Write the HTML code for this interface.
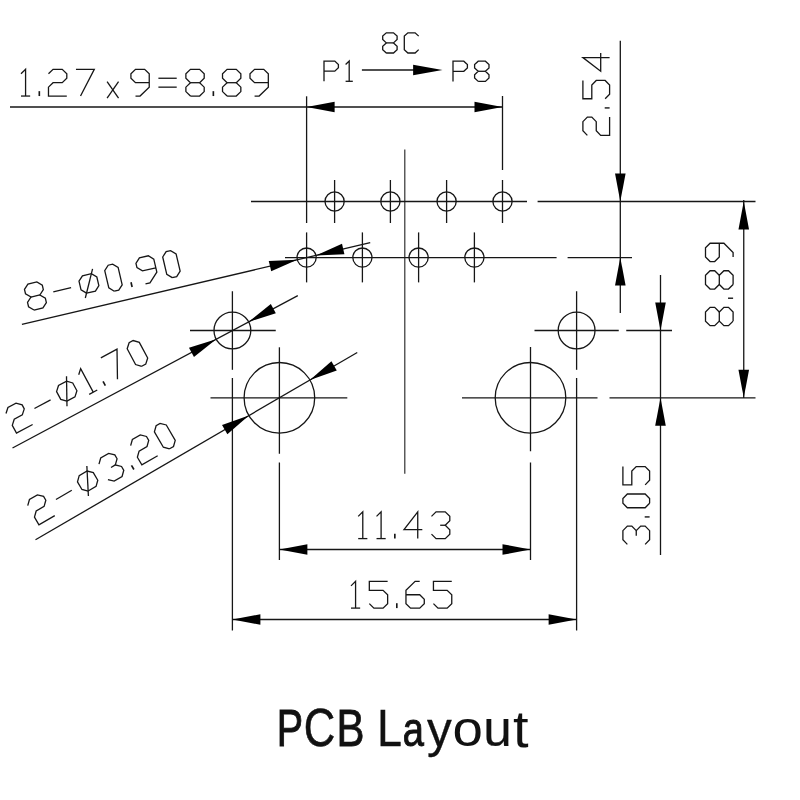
<!DOCTYPE html>
<html><head><meta charset="utf-8"><title>PCB Layout</title>
<style>
html,body{margin:0;padding:0;background:#fff;}
body{width:800px;height:800px;overflow:hidden;font-family:"Liberation Sans",sans-serif;}
svg{display:block}
</style></head><body>
<svg width="800" height="800" viewBox="0 0 800 800">
<rect width="800" height="800" fill="#ffffff"/>
<g fill="none" stroke="#161616" stroke-width="1.3" stroke-linecap="butt">
<line x1="10.00" y1="107.00" x2="502.50" y2="107.00"/>
<line x1="306.60" y1="96.30" x2="306.60" y2="223.00"/>
<line x1="306.60" y1="232.40" x2="306.60" y2="282.40"/>
<line x1="502.50" y1="96.00" x2="502.50" y2="170.00"/>
<line x1="502.50" y1="180.00" x2="502.50" y2="223.00"/>
<line x1="334.60" y1="180.00" x2="334.60" y2="223.00"/>
<line x1="390.40" y1="180.00" x2="390.40" y2="223.00"/>
<line x1="446.60" y1="180.00" x2="446.60" y2="223.00"/>
<line x1="362.40" y1="232.40" x2="362.40" y2="282.40"/>
<line x1="418.60" y1="232.40" x2="418.60" y2="282.40"/>
<line x1="474.40" y1="232.40" x2="474.40" y2="282.40"/>
<line x1="404.80" y1="149.60" x2="404.80" y2="473.75" stroke="#2a2a2a" stroke-width="1.15"/>
<line x1="251.00" y1="201.50" x2="527.00" y2="201.50"/>
<line x1="537.60" y1="201.50" x2="755.50" y2="201.50"/>
<line x1="285.00" y1="257.60" x2="556.60" y2="257.60"/>
<line x1="567.60" y1="257.60" x2="632.00" y2="257.60"/>
<line x1="190.00" y1="330.50" x2="275.75" y2="330.50"/>
<line x1="534.50" y1="330.50" x2="618.75" y2="330.50"/>
<line x1="626.25" y1="330.50" x2="672.00" y2="330.50"/>
<line x1="210.50" y1="397.80" x2="347.30" y2="397.80"/>
<line x1="462.00" y1="397.80" x2="597.50" y2="397.80"/>
<line x1="609.50" y1="397.80" x2="755.50" y2="397.80"/>
<line x1="232.40" y1="291.25" x2="232.40" y2="369.80"/>
<line x1="232.40" y1="378.00" x2="232.40" y2="630.50"/>
<line x1="576.60" y1="291.25" x2="576.60" y2="369.80"/>
<line x1="576.60" y1="378.00" x2="576.60" y2="630.50"/>
<line x1="279.40" y1="347.30" x2="279.40" y2="453.75"/>
<line x1="279.40" y1="462.50" x2="279.40" y2="560.00"/>
<line x1="530.50" y1="347.00" x2="530.50" y2="451.25"/>
<line x1="530.50" y1="462.50" x2="530.50" y2="560.00"/>
<line x1="279.40" y1="549.50" x2="530.50" y2="549.50"/>
<line x1="232.40" y1="619.50" x2="576.60" y2="619.50"/>
<line x1="620.30" y1="40.80" x2="620.30" y2="313.00"/>
<line x1="743.75" y1="200.00" x2="743.75" y2="398.00"/>
<line x1="660.50" y1="275.00" x2="660.50" y2="555.00"/>
<line x1="361.90" y1="70.00" x2="430.00" y2="70.00"/>
<line x1="21.90" y1="324.40" x2="370.23" y2="242.67"/>
<line x1="12.50" y1="448.00" x2="297.80" y2="295.56"/>
<line x1="35.50" y1="539.80" x2="357.27" y2="352.46"/>
<circle cx="334.60" cy="201.50" r="9.60"/>
<circle cx="390.40" cy="201.50" r="9.60"/>
<circle cx="446.60" cy="201.50" r="9.60"/>
<circle cx="502.50" cy="201.50" r="9.60"/>
<circle cx="306.60" cy="257.60" r="9.60"/>
<circle cx="362.40" cy="257.60" r="9.60"/>
<circle cx="418.60" cy="257.60" r="9.60"/>
<circle cx="474.40" cy="257.60" r="9.60"/>
<circle cx="232.40" cy="330.50" r="18.40"/>
<circle cx="576.60" cy="330.50" r="18.40"/>
<circle cx="279.40" cy="397.80" r="35.30"/>
<circle cx="530.50" cy="397.80" r="35.30"/>
</g>
<g fill="#000" stroke="none">
<polygon points="306.60,107.00 334.60,101.70 334.60,112.30"/>
<polygon points="502.50,107.00 474.50,112.30 474.50,101.70"/>
<polygon points="279.40,549.50 307.40,544.20 307.40,554.80"/>
<polygon points="530.50,549.50 502.50,554.80 502.50,544.20"/>
<polygon points="232.40,619.50 260.40,614.20 260.40,624.80"/>
<polygon points="576.60,619.50 548.60,624.80 548.60,614.20"/>
<polygon points="620.30,201.50 615.00,173.50 625.60,173.50"/>
<polygon points="620.30,257.60 625.60,285.60 615.00,285.60"/>
<polygon points="743.75,201.50 749.05,229.50 738.45,229.50"/>
<polygon points="743.75,397.80 738.45,369.80 749.05,369.80"/>
<polygon points="660.50,330.50 655.20,302.50 665.80,302.50"/>
<polygon points="660.50,397.80 665.80,425.80 655.20,425.80"/>
<polygon points="442.50,70.00 413.10,75.20 413.10,64.80"/>
<polygon points="297.25,259.79 271.20,271.35 268.78,261.03"/>
<polygon points="315.95,255.41 342.00,243.85 344.42,254.17"/>
<polygon points="216.17,339.17 193.97,357.04 188.98,347.69"/>
<polygon points="248.63,321.83 270.83,303.96 275.82,313.31"/>
<polygon points="248.89,415.56 227.36,434.23 222.03,425.07"/>
<polygon points="309.91,380.04 331.44,361.37 336.77,370.53"/>
</g>
<g fill="none" stroke="#161616" stroke-width="1.3" stroke-linecap="butt" stroke-linejoin="miter">
<polyline points="34.02,310.05 42.94,307.96 46.38,302.58 45.37,298.25 39.89,294.96 43.33,289.58 42.32,285.25 36.84,281.96 27.92,284.06 24.48,289.44 25.50,293.77 30.97,297.05 27.53,302.43 28.55,306.77 34.02,310.05"/>
<polyline points="30.97,297.05 39.89,294.96"/>
<polyline points="53.27,291.82 71.10,287.64"/>
<polyline points="86.51,293.16 95.43,291.07 98.87,285.69 96.84,277.03 91.37,273.74 82.45,275.84 79.00,281.21 81.04,289.88 86.51,293.16"/>
<polyline points="85.30,298.02 92.58,268.89"/>
<polyline points="114.28,291.22 118.74,290.17 122.18,284.79 118.12,267.47 112.64,264.18 108.18,265.23 104.74,270.60 108.81,287.93 114.28,291.22"/>
<polyline points="132.12,287.03 131.00,282.27" stroke-width="1.65"/>
<polyline points="155.82,267.76 142.45,270.90 136.97,267.61 135.95,263.28 139.40,257.90 148.31,255.81 153.79,259.10 156.84,272.09 149.95,282.85 145.50,283.90"/>
<polyline points="172.25,277.62 176.71,276.57 180.15,271.19 176.08,253.86 170.61,250.58 166.15,251.62 162.71,257.00 166.77,274.33 172.25,277.62"/>
<polyline points="6.00,413.55 7.94,407.47 16.02,403.15 22.15,404.92 24.25,408.84 22.31,414.92 14.23,419.24 12.29,425.32 16.48,433.17 32.64,424.54"/>
<polyline points="34.43,408.45 50.59,399.81"/>
<polyline points="66.90,401.19 74.98,396.87 76.92,390.79 72.73,382.94 66.59,381.17 58.51,385.49 56.57,391.57 60.76,399.42 66.90,401.19"/>
<polyline points="66.98,406.19 66.51,376.17"/>
<polyline points="89.19,394.32 97.27,390.00"/>
<polyline points="93.23,392.16 80.65,368.61 78.71,374.70"/>
<polyline points="105.35,385.69 103.04,381.37" stroke-width="1.65"/>
<polyline points="100.85,357.82 117.01,349.19 117.47,379.21"/>
<polyline points="141.71,366.26 145.75,364.10 147.69,358.02 139.30,342.32 133.16,340.55 129.12,342.71 127.18,348.80 135.57,364.50 141.71,366.26"/>
<polyline points="27.74,505.61 29.46,499.46 37.38,494.85 43.58,496.39 45.82,500.24 44.10,506.39 36.18,511.00 34.46,517.15 38.94,524.84 54.77,515.62"/>
<polyline points="55.97,499.47 71.80,490.26"/>
<polyline points="88.15,491.04 96.07,486.43 97.79,480.28 93.31,472.58 87.11,471.04 79.20,475.65 77.48,481.80 81.96,489.49 88.15,491.04"/>
<polyline points="88.41,496.03 86.85,466.05"/>
<polyline points="98.99,464.13 100.71,457.98 108.62,453.37 114.82,454.91 117.06,458.76 115.34,464.91 121.54,466.45 123.78,470.30 122.06,476.45 114.14,481.05 107.94,479.51"/>
<polyline points="115.34,464.91 110.99,467.44"/>
<polyline points="133.93,469.53 131.47,465.30" stroke-width="1.65"/>
<polyline points="130.65,445.70 132.37,439.54 140.29,434.94 146.49,436.48 148.72,440.32 147.01,446.47 139.09,451.08 137.37,457.23 141.85,464.92 157.68,455.71"/>
<polyline points="169.55,448.79 173.51,446.49 175.23,440.34 166.28,424.96 160.08,423.41 156.12,425.72 154.40,431.87 163.36,447.25 169.55,448.79"/>
<polyline points="21.00,96.05 30.16,96.05"/>
<polyline points="25.58,96.05 25.58,69.35 21.00,73.80"/>
<polyline points="39.32,96.05 39.32,91.16" stroke-width="1.65"/>
<polyline points="48.48,73.80 53.06,69.35 62.22,69.35 66.80,73.80 66.80,78.25 62.22,82.70 53.06,82.70 48.48,87.15 48.48,96.05 66.80,96.05"/>
<polyline points="75.96,69.35 94.28,69.35 80.54,96.05"/>
<polyline points="107.10,98.05 118.55,81.59"/>
<polyline points="107.10,81.59 118.55,98.05"/>
<polyline points="149.24,82.70 135.50,82.70 130.92,78.25 130.92,73.80 135.50,69.35 144.66,69.35 149.24,73.80 149.24,87.15 140.08,96.05 135.50,96.05"/>
<polyline points="158.40,87.15 176.72,87.15"/>
<polyline points="158.40,78.25 176.72,78.25"/>
<polyline points="190.46,96.05 199.62,96.05 204.20,91.60 204.20,87.15 199.62,82.70 204.20,78.25 204.20,73.80 199.62,69.35 190.46,69.35 185.88,73.80 185.88,78.25 190.46,82.70 185.88,87.15 185.88,91.60 190.46,96.05"/>
<polyline points="190.46,82.70 199.62,82.70"/>
<polyline points="213.36,96.05 213.36,91.16" stroke-width="1.65"/>
<polyline points="227.10,96.05 236.26,96.05 240.84,91.60 240.84,87.15 236.26,82.70 240.84,78.25 240.84,73.80 236.26,69.35 227.10,69.35 222.52,73.80 222.52,78.25 227.10,82.70 222.52,87.15 222.52,91.60 227.10,96.05"/>
<polyline points="227.10,82.70 236.26,82.70"/>
<polyline points="268.32,82.70 254.58,82.70 250.00,78.25 250.00,73.80 254.58,69.35 263.74,69.35 268.32,73.80 268.32,87.15 259.16,96.05 254.58,96.05"/>
<polyline points="386.30,53.00 393.50,53.00 397.10,49.63 397.10,46.26 393.50,42.89 397.10,39.52 397.10,36.15 393.50,32.78 386.30,32.78 382.70,36.15 382.70,39.52 386.30,42.89 382.70,46.26 382.70,49.63 386.30,53.00"/>
<polyline points="386.30,42.89 393.50,42.89"/>
<polyline points="418.70,36.15 415.10,32.78 407.90,32.78 404.30,36.15 404.30,49.63 407.90,53.00 415.10,53.00 418.70,49.63"/>
<polyline points="324.00,81.30 324.00,61.08 334.80,61.08 338.40,64.45 338.40,67.82 334.80,71.19 324.00,71.19"/>
<polyline points="345.60,81.30 352.80,81.30"/>
<polyline points="349.20,81.30 349.20,61.08 345.60,64.45"/>
<polyline points="453.00,81.40 453.00,61.18 463.80,61.18 467.40,64.55 467.40,67.92 463.80,71.29 453.00,71.29"/>
<polyline points="478.20,81.40 485.40,81.40 489.00,78.03 489.00,74.66 485.40,71.29 489.00,67.92 489.00,64.55 485.40,61.18 478.20,61.18 474.60,64.55 474.60,67.92 478.20,71.29 474.60,74.66 474.60,78.03 478.20,81.40"/>
<polyline points="478.20,71.29 485.40,71.29"/>
<polyline points="587.35,135.40 582.90,130.82 582.90,121.66 587.35,117.08 591.80,117.08 596.25,121.66 596.25,130.82 600.70,135.40 609.60,135.40 609.60,117.08"/>
<polyline points="609.60,107.92 604.71,107.92" stroke-width="1.40"/>
<polyline points="582.90,80.44 582.90,98.76 591.80,98.76 591.80,85.02 596.25,80.44 605.15,80.44 609.60,85.02 609.60,94.18 605.15,98.76"/>
<polyline points="609.60,57.54 582.90,57.54 600.70,71.28 600.70,52.96"/>
<polyline points="733.10,321.12 733.10,311.96 728.50,307.38 723.90,307.38 719.30,311.96 714.70,307.38 710.10,307.38 705.50,311.96 705.50,321.12 710.10,325.70 714.70,325.70 719.30,321.12 723.90,325.70 728.50,325.70 733.10,321.12"/>
<polyline points="719.30,321.12 719.30,311.96"/>
<polyline points="733.10,298.22 728.04,298.22" stroke-width="1.40"/>
<polyline points="733.10,284.48 733.10,275.32 728.50,270.74 723.90,270.74 719.30,275.32 714.70,270.74 710.10,270.74 705.50,275.32 705.50,284.48 710.10,289.06 714.70,289.06 719.30,284.48 723.90,289.06 728.50,289.06 733.10,284.48"/>
<polyline points="719.30,284.48 719.30,275.32"/>
<polyline points="719.30,243.26 719.30,257.00 714.70,261.58 710.10,261.58 705.50,257.00 705.50,247.84 710.10,243.26 723.90,243.26 733.10,252.42 733.10,257.00"/>
<polyline points="627.35,544.40 622.90,539.82 622.90,530.66 627.35,526.08 631.80,526.08 636.25,530.66 640.70,526.08 645.15,526.08 649.60,530.66 649.60,539.82 645.15,544.40"/>
<polyline points="636.25,530.66 636.25,535.70"/>
<polyline points="649.60,516.92 644.71,516.92" stroke-width="1.40"/>
<polyline points="649.60,503.18 649.60,498.60 645.15,494.02 627.35,494.02 622.90,498.60 622.90,503.18 627.35,507.76 645.15,507.76 649.60,503.18"/>
<polyline points="622.90,466.54 622.90,484.86 631.80,484.86 631.80,471.12 636.25,466.54 645.15,466.54 649.60,471.12 649.60,480.28 645.15,484.86"/>
<polyline points="358.20,538.60 367.36,538.60"/>
<polyline points="362.78,538.60 362.78,511.90 358.20,516.35"/>
<polyline points="376.52,538.60 385.68,538.60"/>
<polyline points="381.10,538.60 381.10,511.90 376.52,516.35"/>
<polyline points="394.84,538.60 394.84,533.71" stroke-width="1.65"/>
<polyline points="417.74,538.60 417.74,511.90 404.00,529.70 422.32,529.70"/>
<polyline points="431.48,516.35 436.06,511.90 445.22,511.90 449.80,516.35 449.80,520.80 445.22,525.25 449.80,529.70 449.80,534.15 445.22,538.60 436.06,538.60 431.48,534.15"/>
<polyline points="445.22,525.25 440.18,525.25"/>
<polyline points="351.00,608.10 360.16,608.10"/>
<polyline points="355.58,608.10 355.58,581.40 351.00,585.85"/>
<polyline points="387.64,581.40 369.32,581.40 369.32,590.30 383.06,590.30 387.64,594.75 387.64,603.65 383.06,608.10 373.90,608.10 369.32,603.65"/>
<polyline points="396.80,608.10 396.80,603.21" stroke-width="1.65"/>
<polyline points="419.70,581.40 415.12,581.40 405.96,590.30 405.96,603.65 410.54,608.10 419.70,608.10 424.28,603.65 424.28,599.20 419.70,594.75 405.96,594.75"/>
<polyline points="451.76,581.40 433.44,581.40 433.44,590.30 447.18,590.30 451.76,594.75 451.76,603.65 447.18,608.10 438.02,608.10 433.44,603.65"/>
</g>
<g style="filter:grayscale(1)" font-family="'Liberation Sans', sans-serif" font-size="50" fill="#111">
<text transform="translate(276.70,745.80) scale(0.7887,1.0458)" x="0" y="0" stroke="#111" stroke-width="0.9" vector-effect="non-scaling-stroke">P</text>
<text transform="translate(303.87,746.07) scale(0.8711,1.0615)" x="0" y="0" stroke="#111" stroke-width="0.6" vector-effect="non-scaling-stroke">C</text>
<text transform="translate(336.45,745.85) scale(0.8376,1.0487)" x="0" y="0" stroke="#111" stroke-width="0.8" vector-effect="non-scaling-stroke">B</text>
<text transform="translate(377.26,745.80) scale(0.8818,1.0502)" x="0" y="0" stroke="#111" stroke-width="0.6" vector-effect="non-scaling-stroke">L</text>
<text transform="translate(402.83,745.77) scale(0.7610,0.9571)" x="0" y="0" stroke="#111" stroke-width="0.9" vector-effect="non-scaling-stroke">a</text>
<text transform="translate(426.93,747.10) scale(0.9899,1.0122)" x="0" y="0" stroke="#111" stroke-width="0.3" vector-effect="non-scaling-stroke">y</text>
<text transform="translate(452.42,746.40) scale(1.0942,0.9973)" x="0" y="0">o</text>
<text transform="translate(483.27,746.31) scale(1.0259,0.9842)" x="0" y="0" stroke="#111" stroke-width="0.2" vector-effect="non-scaling-stroke">u</text>
<text transform="translate(512.94,746.51) scale(1.1204,1.0504)" x="0" y="0">t</text>
</g>
</svg>
</body></html>
